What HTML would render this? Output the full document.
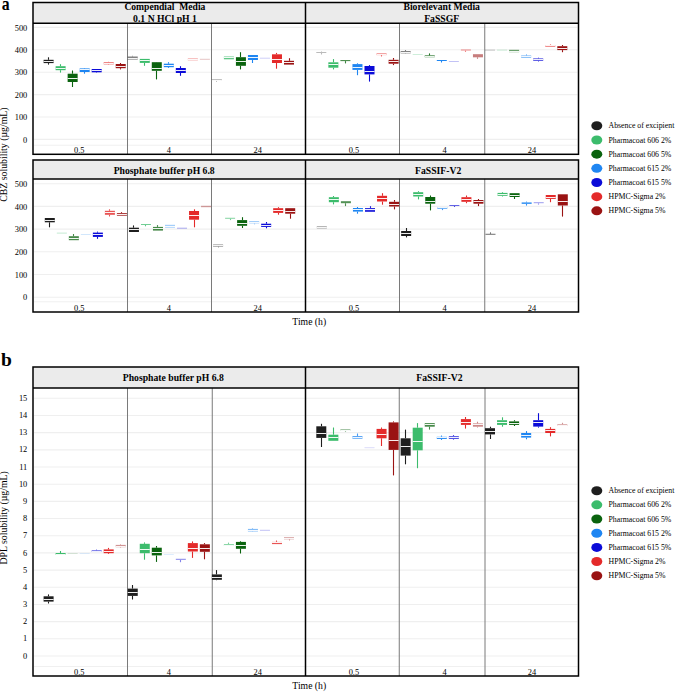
<!DOCTYPE html>
<html><head><meta charset="utf-8"><title>Solubility box plots</title>
<style>
html,body{margin:0;padding:0;background:#fff;}
body{width:676px;height:692px;overflow:hidden;font-family:"Liberation Serif",serif;}
svg{display:block;}
</style></head><body>
<svg width="676" height="692" viewBox="0 0 676 692">
<rect width="676" height="692" fill="#fff"/>
<text transform="translate(1.65,9.8) scale(0.83,1)" font-family='"Liberation Serif", serif' font-weight="bold" font-size="19">a</text>
<rect x="33" y="2.5" width="545.5" height="20.8" fill="#ebebeb"/>
<line x1="34" y1="139.40" x2="577.5" y2="139.40" stroke="#efefef" stroke-width="1.1"/>
<line x1="34" y1="117.00" x2="577.5" y2="117.00" stroke="#efefef" stroke-width="1.1"/>
<line x1="34" y1="94.60" x2="577.5" y2="94.60" stroke="#efefef" stroke-width="1.1"/>
<line x1="34" y1="72.20" x2="577.5" y2="72.20" stroke="#efefef" stroke-width="1.1"/>
<line x1="34" y1="49.80" x2="577.5" y2="49.80" stroke="#efefef" stroke-width="1.1"/>
<line x1="34" y1="27.40" x2="577.5" y2="27.40" stroke="#efefef" stroke-width="1.1"/>
<line x1="34" y1="145.2" x2="577.5" y2="145.2" stroke="#f0f0f0" stroke-width="1"/>
<line x1="127.5" y1="23.3" x2="127.5" y2="154.3" stroke="#7a7a7a" stroke-width="1"/>
<line x1="211.5" y1="23.3" x2="211.5" y2="154.3" stroke="#7a7a7a" stroke-width="1"/>
<line x1="399.5" y1="23.3" x2="399.5" y2="154.3" stroke="#7a7a7a" stroke-width="1"/>
<line x1="484.75" y1="23.3" x2="484.75" y2="154.3" stroke="#7a7a7a" stroke-width="1"/>
<g><line x1="48.50" y1="57.30" x2="48.50" y2="59.80" stroke="#1e1e1e" stroke-width="1.1"/><line x1="48.50" y1="63.10" x2="48.50" y2="64.60" stroke="#1e1e1e" stroke-width="1.1"/><rect x="43.60" y="59.80" width="10.0" height="3.30" fill="#1e1e1e"/><rect x="43.60" y="61" width="10.0" height="1" fill="#fff" fill-opacity="0.92"/></g>
<g><line x1="60.50" y1="64.20" x2="60.50" y2="66.20" stroke="#3cbc6c" stroke-width="1.1"/><line x1="60.50" y1="70.20" x2="60.50" y2="72.60" stroke="#3cbc6c" stroke-width="1.1"/><rect x="55.62" y="66.20" width="10.0" height="4.00" fill="#3cbc6c"/><rect x="55.62" y="68" width="10.0" height="1" fill="#fff" fill-opacity="0.92"/></g>
<g><line x1="72.50" y1="70.50" x2="72.50" y2="73.70" stroke="#0a630e" stroke-width="1.1"/><line x1="72.50" y1="82.00" x2="72.50" y2="87.00" stroke="#0a630e" stroke-width="1.1"/><rect x="67.64" y="73.70" width="10.0" height="8.30" fill="#0a630e"/><rect x="67.64" y="78" width="10.0" height="1" fill="#fff" fill-opacity="0.92"/></g>
<g><line x1="84.50" y1="68.00" x2="84.50" y2="68.40" stroke="#1f86f2" stroke-width="1.1"/><line x1="84.50" y1="72.00" x2="84.50" y2="73.70" stroke="#1f86f2" stroke-width="1.1"/><rect x="79.66" y="68.40" width="10.0" height="3.60" fill="#1f86f2"/><rect x="79.66" y="69" width="10.0" height="1" fill="#fff" fill-opacity="0.92"/></g>
<g><line x1="96.50" y1="72.30" x2="96.50" y2="72.70" stroke="#0b0bd8" stroke-width="1.1"/><rect x="91.68" y="69.00" width="10.0" height="3.30" fill="#0b0bd8"/><rect x="91.68" y="70" width="10.0" height="1" fill="#fff" fill-opacity="0.92"/></g>
<g opacity="0.7"><line x1="108.50" y1="61.80" x2="108.50" y2="62.20" stroke="#e42a2a" stroke-width="1.1"/><line x1="108.50" y1="64.40" x2="108.50" y2="64.80" stroke="#e42a2a" stroke-width="1.1"/><rect x="103.70" y="62.20" width="10.0" height="2.20" fill="#e42a2a"/><rect x="103.70" y="63" width="10.0" height="1" fill="#fff" fill-opacity="0.92"/></g>
<g><line x1="120.50" y1="63.00" x2="120.50" y2="64.00" stroke="#9a1313" stroke-width="1.1"/><line x1="120.50" y1="68.20" x2="120.50" y2="69.40" stroke="#9a1313" stroke-width="1.1"/><rect x="115.72" y="64.00" width="10.0" height="4.20" fill="#9a1313"/><rect x="115.72" y="66" width="10.0" height="1" fill="#fff" fill-opacity="0.92"/></g>
<g opacity="0.55"><line x1="132.50" y1="55.80" x2="132.50" y2="56.50" stroke="#1e1e1e" stroke-width="1.1"/><rect x="127.74" y="56.50" width="10.0" height="3.10" fill="#1e1e1e"/><rect x="127.74" y="58" width="10.0" height="1" fill="#fff" fill-opacity="0.92"/></g>
<g><line x1="144.50" y1="62.90" x2="144.50" y2="65.80" stroke="#3cbc6c" stroke-width="1.1"/><rect x="139.76" y="58.90" width="10.0" height="4.00" fill="#3cbc6c"/><rect x="139.76" y="60" width="10.0" height="1" fill="#fff" fill-opacity="0.92"/></g>
<g><line x1="156.50" y1="62.00" x2="156.50" y2="62.20" stroke="#0a630e" stroke-width="1.1"/><line x1="156.50" y1="70.80" x2="156.50" y2="79.40" stroke="#0a630e" stroke-width="1.1"/><rect x="151.78" y="62.20" width="10.0" height="8.60" fill="#0a630e"/><rect x="151.78" y="68" width="10.0" height="1" fill="#fff" fill-opacity="0.92"/></g>
<g><line x1="168.50" y1="62.20" x2="168.50" y2="63.70" stroke="#1f86f2" stroke-width="1.1"/><line x1="168.50" y1="67.20" x2="168.50" y2="68.00" stroke="#1f86f2" stroke-width="1.1"/><rect x="163.80" y="63.70" width="10.0" height="3.50" fill="#1f86f2"/><rect x="163.80" y="65" width="10.0" height="1" fill="#fff" fill-opacity="0.92"/></g>
<g><line x1="180.50" y1="66.20" x2="180.50" y2="68.00" stroke="#0b0bd8" stroke-width="1.1"/><line x1="180.50" y1="73.00" x2="180.50" y2="75.80" stroke="#0b0bd8" stroke-width="1.1"/><rect x="175.82" y="68.00" width="10.0" height="5.00" fill="#0b0bd8"/><rect x="175.82" y="70" width="10.0" height="1" fill="#fff" fill-opacity="0.92"/></g>
<g opacity="0.35"><rect x="187.84" y="58.20" width="10.0" height="2.30" fill="#e42a2a"/><rect x="187.84" y="59" width="10.0" height="1" fill="#fff" fill-opacity="0.92"/></g>
<g opacity="0.25"><rect x="199.86" y="58.80" width="10.0" height="1.00" fill="#9a1313"/></g>
<g opacity="0.45"><line x1="216.50" y1="80.60" x2="216.50" y2="81.60" stroke="#1e1e1e" stroke-width="1.1"/><rect x="211.88" y="79.40" width="10.0" height="1.20" fill="#1e1e1e"/><rect x="211.88" y="80" width="10.0" height="1" fill="#fff" fill-opacity="0.92"/></g>
<g opacity="0.8"><rect x="223.90" y="56.50" width="10.0" height="2.80" fill="#3cbc6c"/><rect x="223.90" y="57" width="10.0" height="1" fill="#fff" fill-opacity="0.92"/></g>
<g><line x1="240.50" y1="52.20" x2="240.50" y2="57.20" stroke="#0a630e" stroke-width="1.1"/><line x1="240.50" y1="65.80" x2="240.50" y2="69.40" stroke="#0a630e" stroke-width="1.1"/><rect x="235.92" y="57.20" width="10.0" height="8.60" fill="#0a630e"/><rect x="235.92" y="61" width="10.0" height="1" fill="#fff" fill-opacity="0.92"/></g>
<g><line x1="252.50" y1="60.00" x2="252.50" y2="63.00" stroke="#1f86f2" stroke-width="1.1"/><rect x="247.94" y="55.00" width="10.0" height="5.00" fill="#1f86f2"/><rect x="247.94" y="57" width="10.0" height="1" fill="#fff" fill-opacity="0.92"/></g>
<g opacity="0.2"><rect x="259.96" y="57.70" width="10.0" height="1.00" fill="#0b0bd8"/></g>
<g><line x1="276.50" y1="52.90" x2="276.50" y2="54.30" stroke="#e42a2a" stroke-width="1.1"/><line x1="276.50" y1="63.00" x2="276.50" y2="68.70" stroke="#e42a2a" stroke-width="1.1"/><rect x="271.98" y="54.30" width="10.0" height="8.70" fill="#e42a2a"/><rect x="271.98" y="59" width="10.0" height="1" fill="#fff" fill-opacity="0.92"/></g>
<g><line x1="289.50" y1="58.20" x2="289.50" y2="60.80" stroke="#9a1313" stroke-width="1.1"/><rect x="284.00" y="60.80" width="10.0" height="3.80" fill="#9a1313"/><rect x="284.00" y="62" width="10.0" height="1" fill="#fff" fill-opacity="0.92"/></g>
<g opacity="0.3"><line x1="321.50" y1="51.50" x2="321.50" y2="52.00" stroke="#1e1e1e" stroke-width="1.1"/><line x1="321.50" y1="53.00" x2="321.50" y2="54.50" stroke="#1e1e1e" stroke-width="1.1"/><rect x="316.30" y="52.00" width="10.0" height="1.00" fill="#1e1e1e"/></g>
<g><line x1="333.50" y1="59.10" x2="333.50" y2="62.30" stroke="#3cbc6c" stroke-width="1.1"/><line x1="333.50" y1="67.70" x2="333.50" y2="69.40" stroke="#3cbc6c" stroke-width="1.1"/><rect x="328.35" y="62.30" width="10.0" height="5.40" fill="#3cbc6c"/><rect x="328.35" y="64" width="10.0" height="1" fill="#fff" fill-opacity="0.92"/></g>
<g opacity="0.8"><line x1="345.50" y1="61.10" x2="345.50" y2="63.40" stroke="#0a630e" stroke-width="1.1"/><rect x="340.40" y="60.10" width="10.0" height="1.00" fill="#0a630e"/></g>
<g><line x1="357.50" y1="63.30" x2="357.50" y2="64.10" stroke="#1f86f2" stroke-width="1.1"/><line x1="357.50" y1="69.90" x2="357.50" y2="75.20" stroke="#1f86f2" stroke-width="1.1"/><rect x="352.45" y="64.10" width="10.0" height="5.80" fill="#1f86f2"/><rect x="352.45" y="67" width="10.0" height="1" fill="#fff" fill-opacity="0.92"/></g>
<g><line x1="369.50" y1="65.10" x2="369.50" y2="66.00" stroke="#0b0bd8" stroke-width="1.1"/><line x1="369.50" y1="74.40" x2="369.50" y2="81.60" stroke="#0b0bd8" stroke-width="1.1"/><rect x="364.50" y="66.00" width="10.0" height="8.40" fill="#0b0bd8"/><rect x="364.50" y="71" width="10.0" height="1" fill="#fff" fill-opacity="0.92"/></g>
<g opacity="0.7"><line x1="381.50" y1="55.10" x2="381.50" y2="56.50" stroke="#e42a2a" stroke-width="1.1"/><rect x="376.55" y="53.40" width="10.0" height="1.70" fill="#e42a2a"/><rect x="376.55" y="54" width="10.0" height="1" fill="#fff" fill-opacity="0.92"/></g>
<g><line x1="393.50" y1="58.00" x2="393.50" y2="59.80" stroke="#9a1313" stroke-width="1.1"/><line x1="393.50" y1="63.70" x2="393.50" y2="65.10" stroke="#9a1313" stroke-width="1.1"/><rect x="388.60" y="59.80" width="10.0" height="3.90" fill="#9a1313"/><rect x="388.60" y="61" width="10.0" height="1" fill="#fff" fill-opacity="0.92"/></g>
<g opacity="0.55"><line x1="405.50" y1="50.00" x2="405.50" y2="51.00" stroke="#1e1e1e" stroke-width="1.1"/><line x1="405.50" y1="53.40" x2="405.50" y2="53.70" stroke="#1e1e1e" stroke-width="1.1"/><rect x="400.65" y="51.00" width="10.0" height="2.40" fill="#1e1e1e"/><rect x="400.65" y="52" width="10.0" height="1" fill="#fff" fill-opacity="0.92"/></g>
<g opacity="0.25"><rect x="412.70" y="54.00" width="10.0" height="1.00" fill="#3cbc6c"/></g>
<g opacity="0.9"><line x1="429.50" y1="53.40" x2="429.50" y2="55.40" stroke="#0a630e" stroke-width="1.1"/><rect x="424.75" y="55.40" width="10.0" height="1.80" fill="#0a630e"/><rect x="424.75" y="56" width="10.0" height="1" fill="#fff" fill-opacity="0.92"/></g>
<g><line x1="441.50" y1="61.00" x2="441.50" y2="62.50" stroke="#1f86f2" stroke-width="1.1"/><rect x="436.80" y="60.00" width="10.0" height="1.00" fill="#1f86f2"/></g>
<g opacity="0.25"><rect x="448.85" y="61.00" width="10.0" height="1.00" fill="#0b0bd8"/></g>
<g opacity="0.55"><line x1="465.50" y1="50.50" x2="465.50" y2="52.00" stroke="#e42a2a" stroke-width="1.1"/><rect x="460.90" y="49.50" width="10.0" height="1.00" fill="#e42a2a"/></g>
<g opacity="0.55"><line x1="477.50" y1="57.30" x2="477.50" y2="58.80" stroke="#9a1313" stroke-width="1.1"/><rect x="472.95" y="54.20" width="10.0" height="3.10" fill="#9a1313"/></g>
<g opacity="0.25"><rect x="485.00" y="49.60" width="10.0" height="1.00" fill="#1e1e1e"/></g>
<g opacity="0.25"><rect x="497.05" y="49.60" width="10.0" height="1.00" fill="#3cbc6c"/></g>
<g opacity="0.6"><rect x="509.10" y="49.80" width="10.0" height="2.40" fill="#0a630e"/><rect x="509.10" y="51" width="10.0" height="1" fill="#fff" fill-opacity="0.92"/></g>
<g opacity="0.7"><line x1="526.50" y1="54.40" x2="526.50" y2="55.50" stroke="#1f86f2" stroke-width="1.1"/><rect x="521.15" y="55.50" width="10.0" height="2.20" fill="#1f86f2"/><rect x="521.15" y="56" width="10.0" height="1" fill="#fff" fill-opacity="0.92"/></g>
<g opacity="0.8"><line x1="538.50" y1="57.70" x2="538.50" y2="58.40" stroke="#0b0bd8" stroke-width="1.1"/><line x1="538.50" y1="60.80" x2="538.50" y2="61.50" stroke="#0b0bd8" stroke-width="1.1"/><rect x="533.20" y="58.40" width="10.0" height="2.40" fill="#0b0bd8"/><rect x="533.20" y="59" width="10.0" height="1" fill="#fff" fill-opacity="0.92"/></g>
<g opacity="0.65"><line x1="550.50" y1="44.30" x2="550.50" y2="45.00" stroke="#e42a2a" stroke-width="1.1"/><rect x="545.25" y="45.00" width="10.0" height="1.80" fill="#e42a2a"/><rect x="545.25" y="45" width="10.0" height="1" fill="#fff" fill-opacity="0.92"/></g>
<g><line x1="562.50" y1="45.00" x2="562.50" y2="46.20" stroke="#9a1313" stroke-width="1.1"/><line x1="562.50" y1="50.10" x2="562.50" y2="52.20" stroke="#9a1313" stroke-width="1.1"/><rect x="557.30" y="46.20" width="10.0" height="3.90" fill="#9a1313"/><rect x="557.30" y="48" width="10.0" height="1" fill="#fff" fill-opacity="0.92"/></g>
<rect x="33" y="2.5" width="545.5" height="151.8" fill="none" stroke="#000" stroke-width="1.5"/>
<line x1="33" y1="23.3" x2="578.5" y2="23.3" stroke="#000" stroke-width="1.5"/>
<line x1="305.5" y1="2.5" x2="305.5" y2="154.3" stroke="#000" stroke-width="1.5"/>
<text x="164.9" y="10.1" text-anchor="middle" font-family='"Liberation Serif", serif' font-weight="bold" font-size="9.7"><tspan font-size="9.6">Compendial&#160; Media</tspan></text>
<text x="165.0" y="21.9" text-anchor="middle" font-family='"Liberation Serif", serif' font-weight="bold" font-size="9.7">0.1 N HCl pH 1</text>
<text x="441.7" y="10.1" text-anchor="middle" font-family='"Liberation Serif", serif' font-weight="bold" font-size="9.7">Biorelevant Media</text>
<text x="441.7" y="21.9" text-anchor="middle" font-family='"Liberation Serif", serif' font-weight="bold" font-size="9.7">FaSSGF</text>
<text x="27.3" y="142.60" text-anchor="end" font-family='"Liberation Serif", serif' font-size="8.4">0</text>
<text x="27.3" y="120.20" text-anchor="end" font-family='"Liberation Serif", serif' font-size="8.4">100</text>
<text x="27.3" y="97.80" text-anchor="end" font-family='"Liberation Serif", serif' font-size="8.4">200</text>
<text x="27.3" y="75.40" text-anchor="end" font-family='"Liberation Serif", serif' font-size="8.4">300</text>
<text x="27.3" y="53.00" text-anchor="end" font-family='"Liberation Serif", serif' font-size="8.4">400</text>
<text x="27.3" y="30.60" text-anchor="end" font-family='"Liberation Serif", serif' font-size="8.4">500</text>
<text x="79.20" y="153.0" text-anchor="middle" font-family='"Liberation Serif", serif' font-size="8.4">0.5</text>
<text x="168.80" y="153.0" text-anchor="middle" font-family='"Liberation Serif", serif' font-size="8.4">4</text>
<text x="257.70" y="153.0" text-anchor="middle" font-family='"Liberation Serif", serif' font-size="8.4">24</text>
<text x="353.90" y="153.0" text-anchor="middle" font-family='"Liberation Serif", serif' font-size="8.4">0.5</text>
<text x="444.60" y="153.0" text-anchor="middle" font-family='"Liberation Serif", serif' font-size="8.4">4</text>
<text x="531.90" y="153.0" text-anchor="middle" font-family='"Liberation Serif", serif' font-size="8.4">24</text>
<rect x="33" y="160.0" width="545.5" height="18.900000000000006" fill="#ebebeb"/>
<line x1="34" y1="297.20" x2="577.5" y2="297.20" stroke="#efefef" stroke-width="1.1"/>
<line x1="34" y1="274.50" x2="577.5" y2="274.50" stroke="#efefef" stroke-width="1.1"/>
<line x1="34" y1="251.80" x2="577.5" y2="251.80" stroke="#efefef" stroke-width="1.1"/>
<line x1="34" y1="229.10" x2="577.5" y2="229.10" stroke="#efefef" stroke-width="1.1"/>
<line x1="34" y1="206.40" x2="577.5" y2="206.40" stroke="#efefef" stroke-width="1.1"/>
<line x1="34" y1="183.70" x2="577.5" y2="183.70" stroke="#efefef" stroke-width="1.1"/>
<line x1="34" y1="301.8" x2="577.5" y2="301.8" stroke="#f0f0f0" stroke-width="1"/>
<line x1="127.5" y1="178.9" x2="127.5" y2="312.0" stroke="#7a7a7a" stroke-width="1"/>
<line x1="211.5" y1="178.9" x2="211.5" y2="312.0" stroke="#7a7a7a" stroke-width="1"/>
<line x1="399.5" y1="178.9" x2="399.5" y2="312.0" stroke="#7a7a7a" stroke-width="1"/>
<line x1="484.75" y1="178.9" x2="484.75" y2="312.0" stroke="#7a7a7a" stroke-width="1"/>
<g><line x1="49.50" y1="222.30" x2="49.50" y2="227.30" stroke="#1e1e1e" stroke-width="1.1"/><rect x="44.80" y="218.00" width="10.0" height="4.30" fill="#1e1e1e"/><rect x="44.80" y="220" width="10.0" height="1" fill="#fff" fill-opacity="0.92"/></g>
<g opacity="0.3"><rect x="56.82" y="232.60" width="10.0" height="1.00" fill="#3cbc6c"/></g>
<g opacity="0.75"><line x1="73.50" y1="234.00" x2="73.50" y2="236.20" stroke="#0a630e" stroke-width="1.1"/><rect x="68.84" y="236.20" width="10.0" height="4.00" fill="#0a630e"/><rect x="68.84" y="238" width="10.0" height="1" fill="#fff" fill-opacity="0.92"/></g>
<g opacity="0.2"><rect x="80.86" y="234.00" width="10.0" height="1.00" fill="#1f86f2"/></g>
<g><line x1="97.50" y1="231.60" x2="97.50" y2="232.60" stroke="#0b0bd8" stroke-width="1.1"/><line x1="97.50" y1="236.90" x2="97.50" y2="238.80" stroke="#0b0bd8" stroke-width="1.1"/><rect x="92.88" y="232.60" width="10.0" height="4.30" fill="#0b0bd8"/><rect x="92.88" y="234" width="10.0" height="1" fill="#fff" fill-opacity="0.92"/></g>
<g opacity="0.8"><line x1="109.50" y1="209.30" x2="109.50" y2="210.80" stroke="#e42a2a" stroke-width="1.1"/><line x1="109.50" y1="214.80" x2="109.50" y2="216.50" stroke="#e42a2a" stroke-width="1.1"/><rect x="104.90" y="210.80" width="10.0" height="4.00" fill="#e42a2a"/><rect x="104.90" y="212" width="10.0" height="1" fill="#fff" fill-opacity="0.92"/></g>
<g opacity="0.8"><line x1="121.50" y1="212.00" x2="121.50" y2="213.00" stroke="#9a1313" stroke-width="1.1"/><rect x="116.92" y="213.00" width="10.0" height="2.80" fill="#9a1313"/><rect x="116.92" y="214" width="10.0" height="1" fill="#fff" fill-opacity="0.92"/></g>
<g><line x1="133.50" y1="225.40" x2="133.50" y2="227.70" stroke="#1e1e1e" stroke-width="1.1"/><rect x="128.94" y="227.70" width="10.0" height="4.30" fill="#1e1e1e"/><rect x="128.94" y="229" width="10.0" height="1" fill="#fff" fill-opacity="0.92"/></g>
<g opacity="0.8"><line x1="145.50" y1="224.80" x2="145.50" y2="226.30" stroke="#3cbc6c" stroke-width="1.1"/><rect x="140.96" y="224.00" width="10.0" height="0.90" fill="#3cbc6c"/></g>
<g opacity="0.75"><line x1="157.50" y1="225.10" x2="157.50" y2="226.90" stroke="#0a630e" stroke-width="1.1"/><rect x="152.98" y="226.90" width="10.0" height="3.70" fill="#0a630e"/><rect x="152.98" y="228" width="10.0" height="1" fill="#fff" fill-opacity="0.92"/></g>
<g opacity="0.4"><rect x="165.00" y="224.80" width="10.0" height="2.90" fill="#1f86f2"/><rect x="165.00" y="226" width="10.0" height="1" fill="#fff" fill-opacity="0.92"/></g>
<g opacity="0.35"><rect x="177.02" y="227.70" width="10.0" height="1.00" fill="#0b0bd8"/></g>
<g><line x1="194.50" y1="209.30" x2="194.50" y2="211.00" stroke="#e42a2a" stroke-width="1.1"/><line x1="194.50" y1="219.70" x2="194.50" y2="227.30" stroke="#e42a2a" stroke-width="1.1"/><rect x="189.04" y="211.00" width="10.0" height="8.70" fill="#e42a2a"/><rect x="189.04" y="215" width="10.0" height="1" fill="#fff" fill-opacity="0.92"/></g>
<g opacity="0.4"><rect x="201.06" y="205.80" width="10.0" height="1.40" fill="#9a1313"/></g>
<g opacity="0.55"><line x1="218.50" y1="246.60" x2="218.50" y2="247.40" stroke="#1e1e1e" stroke-width="1.1"/><rect x="213.08" y="244.50" width="10.0" height="2.10" fill="#1e1e1e"/><rect x="213.08" y="245" width="10.0" height="1" fill="#fff" fill-opacity="0.92"/></g>
<g opacity="0.7"><line x1="230.50" y1="218.60" x2="230.50" y2="220.10" stroke="#3cbc6c" stroke-width="1.1"/><rect x="225.10" y="217.80" width="10.0" height="0.90" fill="#3cbc6c"/></g>
<g><line x1="242.50" y1="217.20" x2="242.50" y2="220.10" stroke="#0a630e" stroke-width="1.1"/><line x1="242.50" y1="225.80" x2="242.50" y2="228.00" stroke="#0a630e" stroke-width="1.1"/><rect x="237.12" y="220.10" width="10.0" height="5.70" fill="#0a630e"/><rect x="237.12" y="223" width="10.0" height="1" fill="#fff" fill-opacity="0.92"/></g>
<g opacity="0.45"><line x1="254.50" y1="223.40" x2="254.50" y2="224.40" stroke="#1f86f2" stroke-width="1.1"/><rect x="249.14" y="221.10" width="10.0" height="2.30" fill="#1f86f2"/><rect x="249.14" y="222" width="10.0" height="1" fill="#fff" fill-opacity="0.92"/></g>
<g><line x1="266.50" y1="222.00" x2="266.50" y2="223.70" stroke="#0b0bd8" stroke-width="1.1"/><line x1="266.50" y1="226.90" x2="266.50" y2="228.30" stroke="#0b0bd8" stroke-width="1.1"/><rect x="261.16" y="223.70" width="10.0" height="3.20" fill="#0b0bd8"/><rect x="261.16" y="225" width="10.0" height="1" fill="#fff" fill-opacity="0.92"/></g>
<g><line x1="278.50" y1="207.20" x2="278.50" y2="208.20" stroke="#e42a2a" stroke-width="1.1"/><line x1="278.50" y1="212.90" x2="278.50" y2="214.70" stroke="#e42a2a" stroke-width="1.1"/><rect x="273.18" y="208.20" width="10.0" height="4.70" fill="#e42a2a"/><rect x="273.18" y="210" width="10.0" height="1" fill="#fff" fill-opacity="0.92"/></g>
<g><line x1="290.50" y1="213.70" x2="290.50" y2="218.70" stroke="#9a1313" stroke-width="1.1"/><rect x="285.20" y="208.20" width="10.0" height="5.50" fill="#9a1313"/><rect x="285.20" y="211" width="10.0" height="1" fill="#fff" fill-opacity="0.92"/></g>
<g opacity="0.4"><rect x="316.80" y="226.20" width="10.0" height="2.30" fill="#1e1e1e"/><rect x="316.80" y="227" width="10.0" height="1" fill="#fff" fill-opacity="0.92"/></g>
<g><line x1="333.50" y1="196.00" x2="333.50" y2="197.20" stroke="#3cbc6c" stroke-width="1.1"/><line x1="333.50" y1="202.20" x2="333.50" y2="204.40" stroke="#3cbc6c" stroke-width="1.1"/><rect x="328.85" y="197.20" width="10.0" height="5.00" fill="#3cbc6c"/><rect x="328.85" y="199" width="10.0" height="1" fill="#fff" fill-opacity="0.92"/></g>
<g opacity="0.7"><line x1="345.50" y1="203.20" x2="345.50" y2="206.10" stroke="#0a630e" stroke-width="1.1"/><rect x="340.90" y="201.20" width="10.0" height="2.00" fill="#0a630e"/></g>
<g><line x1="357.50" y1="207.00" x2="357.50" y2="208.00" stroke="#1f86f2" stroke-width="1.1"/><line x1="357.50" y1="211.60" x2="357.50" y2="213.70" stroke="#1f86f2" stroke-width="1.1"/><rect x="352.95" y="208.00" width="10.0" height="3.60" fill="#1f86f2"/><rect x="352.95" y="209" width="10.0" height="1" fill="#fff" fill-opacity="0.92"/></g>
<g opacity="0.85"><line x1="370.50" y1="206.10" x2="370.50" y2="208.00" stroke="#0b0bd8" stroke-width="1.1"/><rect x="365.00" y="208.00" width="10.0" height="3.90" fill="#0b0bd8"/><rect x="365.00" y="209" width="10.0" height="1" fill="#fff" fill-opacity="0.92"/></g>
<g><line x1="382.50" y1="193.20" x2="382.50" y2="195.80" stroke="#e42a2a" stroke-width="1.1"/><line x1="382.50" y1="201.50" x2="382.50" y2="204.70" stroke="#e42a2a" stroke-width="1.1"/><rect x="377.05" y="195.80" width="10.0" height="5.70" fill="#e42a2a"/><rect x="377.05" y="198" width="10.0" height="1" fill="#fff" fill-opacity="0.92"/></g>
<g><line x1="394.50" y1="200.00" x2="394.50" y2="201.80" stroke="#9a1313" stroke-width="1.1"/><line x1="394.50" y1="206.50" x2="394.50" y2="209.40" stroke="#9a1313" stroke-width="1.1"/><rect x="389.10" y="201.80" width="10.0" height="4.70" fill="#9a1313"/><rect x="389.10" y="204" width="10.0" height="1" fill="#fff" fill-opacity="0.92"/></g>
<g><line x1="406.50" y1="228.00" x2="406.50" y2="231.00" stroke="#1e1e1e" stroke-width="1.1"/><line x1="406.50" y1="236.00" x2="406.50" y2="237.40" stroke="#1e1e1e" stroke-width="1.1"/><rect x="401.15" y="231.00" width="10.0" height="5.00" fill="#1e1e1e"/><rect x="401.15" y="233" width="10.0" height="1" fill="#fff" fill-opacity="0.92"/></g>
<g><line x1="418.50" y1="191.20" x2="418.50" y2="192.20" stroke="#3cbc6c" stroke-width="1.1"/><line x1="418.50" y1="196.50" x2="418.50" y2="199.40" stroke="#3cbc6c" stroke-width="1.1"/><rect x="413.20" y="192.20" width="10.0" height="4.30" fill="#3cbc6c"/><rect x="413.20" y="194" width="10.0" height="1" fill="#fff" fill-opacity="0.92"/></g>
<g><line x1="430.50" y1="195.50" x2="430.50" y2="197.00" stroke="#0a630e" stroke-width="1.1"/><line x1="430.50" y1="203.70" x2="430.50" y2="210.40" stroke="#0a630e" stroke-width="1.1"/><rect x="425.25" y="197.00" width="10.0" height="6.70" fill="#0a630e"/><rect x="425.25" y="201" width="10.0" height="1" fill="#fff" fill-opacity="0.92"/></g>
<g opacity="0.85"><line x1="442.50" y1="208.70" x2="442.50" y2="210.10" stroke="#1f86f2" stroke-width="1.1"/><rect x="437.30" y="207.00" width="10.0" height="1.70" fill="#1f86f2"/><rect x="437.30" y="207" width="10.0" height="1" fill="#fff" fill-opacity="0.92"/></g>
<g opacity="0.7"><line x1="454.50" y1="205.90" x2="454.50" y2="207.00" stroke="#0b0bd8" stroke-width="1.1"/><rect x="449.35" y="205.00" width="10.0" height="0.90" fill="#0b0bd8"/></g>
<g><line x1="466.50" y1="195.50" x2="466.50" y2="197.20" stroke="#e42a2a" stroke-width="1.1"/><line x1="466.50" y1="201.80" x2="466.50" y2="203.20" stroke="#e42a2a" stroke-width="1.1"/><rect x="461.40" y="197.20" width="10.0" height="4.60" fill="#e42a2a"/><rect x="461.40" y="199" width="10.0" height="1" fill="#fff" fill-opacity="0.92"/></g>
<g><line x1="478.50" y1="199.00" x2="478.50" y2="200.00" stroke="#9a1313" stroke-width="1.1"/><line x1="478.50" y1="203.70" x2="478.50" y2="206.10" stroke="#9a1313" stroke-width="1.1"/><rect x="473.45" y="200.00" width="10.0" height="3.70" fill="#9a1313"/><rect x="473.45" y="201" width="10.0" height="1" fill="#fff" fill-opacity="0.92"/></g>
<g opacity="0.7"><line x1="490.50" y1="232.40" x2="490.50" y2="233.80" stroke="#1e1e1e" stroke-width="1.1"/><rect x="485.50" y="233.80" width="10.0" height="0.90" fill="#1e1e1e"/></g>
<g><line x1="502.50" y1="192.20" x2="502.50" y2="192.90" stroke="#3cbc6c" stroke-width="1.1"/><line x1="502.50" y1="195.80" x2="502.50" y2="196.50" stroke="#3cbc6c" stroke-width="1.1"/><rect x="497.55" y="192.90" width="10.0" height="2.90" fill="#3cbc6c"/><rect x="497.55" y="194" width="10.0" height="1" fill="#fff" fill-opacity="0.92"/></g>
<g><line x1="514.50" y1="197.00" x2="514.50" y2="199.00" stroke="#0a630e" stroke-width="1.1"/><rect x="509.60" y="193.20" width="10.0" height="3.80" fill="#0a630e"/><rect x="509.60" y="195" width="10.0" height="1" fill="#fff" fill-opacity="0.92"/></g>
<g opacity="0.9"><line x1="526.50" y1="201.60" x2="526.50" y2="202.40" stroke="#1f86f2" stroke-width="1.1"/><line x1="526.50" y1="203.90" x2="526.50" y2="205.60" stroke="#1f86f2" stroke-width="1.1"/><rect x="521.65" y="202.40" width="10.0" height="1.50" fill="#1f86f2"/></g>
<g opacity="0.4"><line x1="538.50" y1="203.20" x2="538.50" y2="204.70" stroke="#0b0bd8" stroke-width="1.1"/><rect x="533.70" y="202.20" width="10.0" height="1.00" fill="#0b0bd8"/></g>
<g><line x1="550.50" y1="198.90" x2="550.50" y2="202.20" stroke="#e42a2a" stroke-width="1.1"/><rect x="545.75" y="195.00" width="10.0" height="3.90" fill="#e42a2a"/><rect x="545.75" y="197" width="10.0" height="1" fill="#fff" fill-opacity="0.92"/></g>
<g><line x1="562.50" y1="205.50" x2="562.50" y2="216.60" stroke="#9a1313" stroke-width="1.1"/><rect x="557.80" y="194.30" width="10.0" height="11.20" fill="#9a1313"/><rect x="557.80" y="201" width="10.0" height="1" fill="#fff" fill-opacity="0.92"/></g>
<rect x="33" y="160.0" width="545.5" height="152.0" fill="none" stroke="#000" stroke-width="1.5"/>
<line x1="33" y1="178.9" x2="578.5" y2="178.9" stroke="#000" stroke-width="1.5"/>
<line x1="305.5" y1="160.0" x2="305.5" y2="312.0" stroke="#000" stroke-width="1.5"/>
<text x="164.2" y="173.8" text-anchor="middle" font-family='"Liberation Serif", serif' font-weight="bold" font-size="9.7">Phosphate buffer pH 6.8</text>
<text x="438.2" y="173.8" text-anchor="middle" font-family='"Liberation Serif", serif' font-weight="bold" font-size="9.7">FaSSIF-V2</text>
<text x="27.3" y="300.40" text-anchor="end" font-family='"Liberation Serif", serif' font-size="8.4">0</text>
<text x="27.3" y="277.70" text-anchor="end" font-family='"Liberation Serif", serif' font-size="8.4">100</text>
<text x="27.3" y="255.00" text-anchor="end" font-family='"Liberation Serif", serif' font-size="8.4">200</text>
<text x="27.3" y="232.30" text-anchor="end" font-family='"Liberation Serif", serif' font-size="8.4">300</text>
<text x="27.3" y="209.60" text-anchor="end" font-family='"Liberation Serif", serif' font-size="8.4">400</text>
<text x="27.3" y="186.90" text-anchor="end" font-family='"Liberation Serif", serif' font-size="8.4">500</text>
<text x="79.20" y="310.6" text-anchor="middle" font-family='"Liberation Serif", serif' font-size="8.4">0.5</text>
<text x="168.80" y="310.6" text-anchor="middle" font-family='"Liberation Serif", serif' font-size="8.4">4</text>
<text x="257.70" y="310.6" text-anchor="middle" font-family='"Liberation Serif", serif' font-size="8.4">24</text>
<text x="353.90" y="310.6" text-anchor="middle" font-family='"Liberation Serif", serif' font-size="8.4">0.5</text>
<text x="444.60" y="310.6" text-anchor="middle" font-family='"Liberation Serif", serif' font-size="8.4">4</text>
<text x="531.90" y="310.6" text-anchor="middle" font-family='"Liberation Serif", serif' font-size="8.4">24</text>
<text x="309.25" y="324.7" text-anchor="middle" font-family='"Liberation Serif", serif' font-size="9.7">Time (h)</text>
<text transform="translate(7.4,154.6) rotate(-90)" text-anchor="middle" font-family='"Liberation Serif", serif' font-size="9.8">CBZ solubility (&#181;g/mL)</text>
<ellipse cx="596.8" cy="125.80" rx="5.5" ry="4.5" fill="#1e1e1e"/>
<text x="608.5" y="128.40" font-family='"Liberation Serif", serif' font-size="7.8">Absence of excipient</text>
<ellipse cx="596.8" cy="139.97" rx="5.5" ry="4.5" fill="#3cbc6c"/>
<text x="608.5" y="142.57" font-family='"Liberation Serif", serif' font-size="7.8">Pharmacoat 606 2%</text>
<ellipse cx="596.8" cy="154.14" rx="5.5" ry="4.5" fill="#0a630e"/>
<text x="608.5" y="156.74" font-family='"Liberation Serif", serif' font-size="7.8">Pharmacoat 606 5%</text>
<ellipse cx="596.8" cy="168.31" rx="5.5" ry="4.5" fill="#1f86f2"/>
<text x="608.5" y="170.91" font-family='"Liberation Serif", serif' font-size="7.8">Pharmacoat 615 2%</text>
<ellipse cx="596.8" cy="182.48" rx="5.5" ry="4.5" fill="#0b0bd8"/>
<text x="608.5" y="185.08" font-family='"Liberation Serif", serif' font-size="7.8">Pharmacoat 615 5%</text>
<ellipse cx="596.8" cy="196.65" rx="5.5" ry="4.5" fill="#e42a2a"/>
<text x="608.5" y="199.25" font-family='"Liberation Serif", serif' font-size="7.8">HPMC-Sigma 2%</text>
<ellipse cx="596.8" cy="210.82" rx="5.5" ry="4.5" fill="#9a1313"/>
<text x="608.5" y="213.42" font-family='"Liberation Serif", serif' font-size="7.8">HPMC-Sigma 5%</text>
<text x="1.0" y="365.8" font-family='"Liberation Serif", serif' font-weight="bold" font-size="19.5">b</text>
<rect x="33" y="367.0" width="545.5" height="21.0" fill="#ebebeb"/>
<line x1="34" y1="656.00" x2="577.5" y2="656.00" stroke="#efefef" stroke-width="1.1"/>
<line x1="34" y1="638.82" x2="577.5" y2="638.82" stroke="#efefef" stroke-width="1.1"/>
<line x1="34" y1="621.64" x2="577.5" y2="621.64" stroke="#efefef" stroke-width="1.1"/>
<line x1="34" y1="604.46" x2="577.5" y2="604.46" stroke="#efefef" stroke-width="1.1"/>
<line x1="34" y1="587.28" x2="577.5" y2="587.28" stroke="#efefef" stroke-width="1.1"/>
<line x1="34" y1="570.10" x2="577.5" y2="570.10" stroke="#efefef" stroke-width="1.1"/>
<line x1="34" y1="552.92" x2="577.5" y2="552.92" stroke="#efefef" stroke-width="1.1"/>
<line x1="34" y1="535.74" x2="577.5" y2="535.74" stroke="#efefef" stroke-width="1.1"/>
<line x1="34" y1="518.56" x2="577.5" y2="518.56" stroke="#efefef" stroke-width="1.1"/>
<line x1="34" y1="501.38" x2="577.5" y2="501.38" stroke="#efefef" stroke-width="1.1"/>
<line x1="34" y1="484.20" x2="577.5" y2="484.20" stroke="#efefef" stroke-width="1.1"/>
<line x1="34" y1="467.02" x2="577.5" y2="467.02" stroke="#efefef" stroke-width="1.1"/>
<line x1="34" y1="449.84" x2="577.5" y2="449.84" stroke="#efefef" stroke-width="1.1"/>
<line x1="34" y1="432.66" x2="577.5" y2="432.66" stroke="#efefef" stroke-width="1.1"/>
<line x1="34" y1="415.48" x2="577.5" y2="415.48" stroke="#efefef" stroke-width="1.1"/>
<line x1="34" y1="398.30" x2="577.5" y2="398.30" stroke="#efefef" stroke-width="1.1"/>
<line x1="34" y1="666.5" x2="577.5" y2="666.5" stroke="#f0f0f0" stroke-width="1"/>
<line x1="127.5" y1="388.0" x2="127.5" y2="676.0" stroke="#7a7a7a" stroke-width="1"/>
<line x1="212.25" y1="388.0" x2="212.25" y2="676.0" stroke="#7a7a7a" stroke-width="1"/>
<line x1="399.25" y1="388.0" x2="399.25" y2="676.0" stroke="#7a7a7a" stroke-width="1"/>
<line x1="485.0" y1="388.0" x2="485.0" y2="676.0" stroke="#7a7a7a" stroke-width="1"/>
<g><line x1="48.50" y1="594.40" x2="48.50" y2="596.30" stroke="#1e1e1e" stroke-width="1.1"/><line x1="48.50" y1="601.60" x2="48.50" y2="603.50" stroke="#1e1e1e" stroke-width="1.1"/><rect x="43.60" y="596.30" width="10.0" height="5.30" fill="#1e1e1e"/><rect x="43.60" y="599" width="10.0" height="1" fill="#fff" fill-opacity="0.92"/></g>
<g><line x1="60.50" y1="551.00" x2="60.50" y2="553.00" stroke="#3cbc6c" stroke-width="1.1"/><rect x="55.62" y="553.00" width="10.0" height="2.00" fill="#3cbc6c"/><rect x="55.62" y="554" width="10.0" height="1" fill="#fff" fill-opacity="0.92"/></g>
<g opacity="0.15"><rect x="67.64" y="553.00" width="10.0" height="1.00" fill="#0a630e"/></g>
<g opacity="0.15"><rect x="79.66" y="553.00" width="10.0" height="1.00" fill="#1f86f2"/></g>
<g opacity="0.7"><line x1="96.50" y1="549.60" x2="96.50" y2="550.30" stroke="#0b0bd8" stroke-width="1.1"/><rect x="91.68" y="550.30" width="10.0" height="1.70" fill="#0b0bd8"/><rect x="91.68" y="551" width="10.0" height="1" fill="#fff" fill-opacity="0.92"/></g>
<g><line x1="108.50" y1="547.90" x2="108.50" y2="549.40" stroke="#e42a2a" stroke-width="1.1"/><line x1="108.50" y1="553.20" x2="108.50" y2="554.00" stroke="#e42a2a" stroke-width="1.1"/><rect x="103.70" y="549.40" width="10.0" height="3.80" fill="#e42a2a"/><rect x="103.70" y="551" width="10.0" height="1" fill="#fff" fill-opacity="0.92"/></g>
<g opacity="0.45"><line x1="120.50" y1="544.30" x2="120.50" y2="544.90" stroke="#9a1313" stroke-width="1.1"/><line x1="120.50" y1="547.20" x2="120.50" y2="547.70" stroke="#9a1313" stroke-width="1.1"/><rect x="115.72" y="544.90" width="10.0" height="2.30" fill="#9a1313"/><rect x="115.72" y="546" width="10.0" height="1" fill="#fff" fill-opacity="0.92"/></g>
<g><line x1="132.50" y1="585.00" x2="132.50" y2="588.60" stroke="#1e1e1e" stroke-width="1.1"/><line x1="132.50" y1="595.90" x2="132.50" y2="599.50" stroke="#1e1e1e" stroke-width="1.1"/><rect x="127.74" y="588.60" width="10.0" height="7.30" fill="#1e1e1e"/><rect x="127.74" y="592" width="10.0" height="1" fill="#fff" fill-opacity="0.92"/></g>
<g><line x1="144.50" y1="542.40" x2="144.50" y2="543.80" stroke="#3cbc6c" stroke-width="1.1"/><line x1="144.50" y1="553.20" x2="144.50" y2="559.70" stroke="#3cbc6c" stroke-width="1.1"/><rect x="139.76" y="543.80" width="10.0" height="9.40" fill="#3cbc6c"/><rect x="139.76" y="549" width="10.0" height="1" fill="#fff" fill-opacity="0.92"/></g>
<g><line x1="156.50" y1="546.00" x2="156.50" y2="547.70" stroke="#0a630e" stroke-width="1.1"/><line x1="156.50" y1="555.40" x2="156.50" y2="561.90" stroke="#0a630e" stroke-width="1.1"/><rect x="151.78" y="547.70" width="10.0" height="7.70" fill="#0a630e"/><rect x="151.78" y="552" width="10.0" height="1" fill="#fff" fill-opacity="0.92"/></g>
<g opacity="0.15"><rect x="163.80" y="554.00" width="10.0" height="1.00" fill="#1f86f2"/></g>
<g opacity="0.5"><line x1="180.50" y1="559.80" x2="180.50" y2="562.20" stroke="#0b0bd8" stroke-width="1.1"/><rect x="175.82" y="558.80" width="10.0" height="1.00" fill="#0b0bd8"/></g>
<g><line x1="192.50" y1="541.40" x2="192.50" y2="543.10" stroke="#e42a2a" stroke-width="1.1"/><line x1="192.50" y1="551.50" x2="192.50" y2="557.90" stroke="#e42a2a" stroke-width="1.1"/><rect x="187.84" y="543.10" width="10.0" height="8.40" fill="#e42a2a"/><rect x="187.84" y="548" width="10.0" height="1" fill="#fff" fill-opacity="0.92"/></g>
<g><line x1="204.50" y1="543.10" x2="204.50" y2="544.30" stroke="#9a1313" stroke-width="1.1"/><line x1="204.50" y1="551.80" x2="204.50" y2="559.30" stroke="#9a1313" stroke-width="1.1"/><rect x="199.86" y="544.30" width="10.0" height="7.50" fill="#9a1313"/><rect x="199.86" y="548" width="10.0" height="1" fill="#fff" fill-opacity="0.92"/></g>
<g><line x1="216.50" y1="570.10" x2="216.50" y2="574.40" stroke="#1e1e1e" stroke-width="1.1"/><line x1="216.50" y1="579.80" x2="216.50" y2="580.20" stroke="#1e1e1e" stroke-width="1.1"/><rect x="211.88" y="574.40" width="10.0" height="5.40" fill="#1e1e1e"/><rect x="211.88" y="577" width="10.0" height="1" fill="#fff" fill-opacity="0.92"/></g>
<g opacity="0.65"><line x1="228.50" y1="542.60" x2="228.50" y2="544.10" stroke="#3cbc6c" stroke-width="1.1"/><rect x="223.90" y="544.10" width="10.0" height="1.90" fill="#3cbc6c"/><rect x="223.90" y="545" width="10.0" height="1" fill="#fff" fill-opacity="0.92"/></g>
<g><line x1="240.50" y1="541.20" x2="240.50" y2="541.90" stroke="#0a630e" stroke-width="1.1"/><line x1="240.50" y1="548.80" x2="240.50" y2="553.50" stroke="#0a630e" stroke-width="1.1"/><rect x="235.92" y="541.90" width="10.0" height="6.90" fill="#0a630e"/><rect x="235.92" y="545" width="10.0" height="1" fill="#fff" fill-opacity="0.92"/></g>
<g opacity="0.55"><line x1="252.50" y1="528.20" x2="252.50" y2="528.90" stroke="#1f86f2" stroke-width="1.1"/><line x1="252.50" y1="531.50" x2="252.50" y2="531.80" stroke="#1f86f2" stroke-width="1.1"/><rect x="247.94" y="528.90" width="10.0" height="2.60" fill="#1f86f2"/><rect x="247.94" y="530" width="10.0" height="1" fill="#fff" fill-opacity="0.92"/></g>
<g opacity="0.25"><rect x="259.96" y="529.80" width="10.0" height="1.00" fill="#0b0bd8"/></g>
<g opacity="0.8"><line x1="276.50" y1="540.50" x2="276.50" y2="541.90" stroke="#e42a2a" stroke-width="1.1"/><rect x="271.98" y="541.90" width="10.0" height="2.20" fill="#e42a2a"/><rect x="271.98" y="542" width="10.0" height="1" fill="#fff" fill-opacity="0.92"/></g>
<g opacity="0.45"><line x1="289.50" y1="539.30" x2="289.50" y2="540.50" stroke="#9a1313" stroke-width="1.1"/><rect x="284.00" y="537.30" width="10.0" height="2.00" fill="#9a1313"/><rect x="284.00" y="538" width="10.0" height="1" fill="#fff" fill-opacity="0.92"/></g>
<g><line x1="321.50" y1="423.80" x2="321.50" y2="426.30" stroke="#1e1e1e" stroke-width="1.1"/><line x1="321.50" y1="437.90" x2="321.50" y2="447.00" stroke="#1e1e1e" stroke-width="1.1"/><rect x="316.30" y="426.30" width="10.0" height="11.60" fill="#1e1e1e"/><rect x="316.30" y="433" width="10.0" height="1" fill="#fff" fill-opacity="0.92"/></g>
<g><line x1="333.50" y1="427.50" x2="333.50" y2="434.70" stroke="#3cbc6c" stroke-width="1.1"/><rect x="328.35" y="434.70" width="10.0" height="6.10" fill="#3cbc6c"/><rect x="328.35" y="437" width="10.0" height="1" fill="#fff" fill-opacity="0.92"/></g>
<g opacity="0.45"><line x1="345.50" y1="430.80" x2="345.50" y2="431.80" stroke="#0a630e" stroke-width="1.1"/><rect x="340.40" y="429.20" width="10.0" height="1.60" fill="#0a630e"/><rect x="340.40" y="430" width="10.0" height="1" fill="#fff" fill-opacity="0.92"/></g>
<g opacity="0.8"><line x1="357.50" y1="433.50" x2="357.50" y2="436.10" stroke="#1f86f2" stroke-width="1.1"/><rect x="352.45" y="436.10" width="10.0" height="2.60" fill="#1f86f2"/><rect x="352.45" y="437" width="10.0" height="1" fill="#fff" fill-opacity="0.92"/></g>
<g opacity="0.15"><rect x="364.50" y="447.20" width="10.0" height="1.00" fill="#0b0bd8"/></g>
<g><line x1="381.50" y1="427.50" x2="381.50" y2="428.90" stroke="#e42a2a" stroke-width="1.1"/><line x1="381.50" y1="438.30" x2="381.50" y2="446.00" stroke="#e42a2a" stroke-width="1.1"/><rect x="376.55" y="428.90" width="10.0" height="9.40" fill="#e42a2a"/><rect x="376.55" y="434" width="10.0" height="1" fill="#fff" fill-opacity="0.92"/></g>
<g><line x1="393.50" y1="421.40" x2="393.50" y2="422.40" stroke="#9a1313" stroke-width="1.1"/><line x1="393.50" y1="449.90" x2="393.50" y2="475.40" stroke="#9a1313" stroke-width="1.1"/><rect x="388.60" y="422.40" width="10.0" height="27.50" fill="#9a1313"/><rect x="388.60" y="440" width="10.0" height="1" fill="#fff" fill-opacity="0.92"/></g>
<g><line x1="405.50" y1="429.60" x2="405.50" y2="438.30" stroke="#1e1e1e" stroke-width="1.1"/><line x1="405.50" y1="455.60" x2="405.50" y2="464.30" stroke="#1e1e1e" stroke-width="1.1"/><rect x="400.65" y="438.30" width="10.0" height="17.30" fill="#1e1e1e"/><rect x="400.65" y="446" width="10.0" height="1" fill="#fff" fill-opacity="0.92"/></g>
<g><line x1="417.50" y1="423.10" x2="417.50" y2="427.70" stroke="#3cbc6c" stroke-width="1.1"/><line x1="417.50" y1="450.30" x2="417.50" y2="468.20" stroke="#3cbc6c" stroke-width="1.1"/><rect x="412.70" y="427.70" width="10.0" height="22.60" fill="#3cbc6c"/><rect x="412.70" y="441" width="10.0" height="1" fill="#fff" fill-opacity="0.92"/></g>
<g opacity="0.75"><line x1="429.50" y1="426.70" x2="429.50" y2="429.60" stroke="#0a630e" stroke-width="1.1"/><rect x="424.75" y="423.10" width="10.0" height="3.60" fill="#0a630e"/><rect x="424.75" y="424" width="10.0" height="1" fill="#fff" fill-opacity="0.92"/></g>
<g opacity="0.9"><line x1="441.50" y1="435.50" x2="441.50" y2="436.80" stroke="#1f86f2" stroke-width="1.1"/><line x1="441.50" y1="439.00" x2="441.50" y2="440.00" stroke="#1f86f2" stroke-width="1.1"/><rect x="436.80" y="436.80" width="10.0" height="2.20" fill="#1f86f2"/><rect x="436.80" y="437" width="10.0" height="1" fill="#fff" fill-opacity="0.92"/></g>
<g opacity="0.7"><line x1="453.50" y1="435.00" x2="453.50" y2="436.10" stroke="#0b0bd8" stroke-width="1.1"/><line x1="453.50" y1="439.00" x2="453.50" y2="439.70" stroke="#0b0bd8" stroke-width="1.1"/><rect x="448.85" y="436.10" width="10.0" height="2.90" fill="#0b0bd8"/><rect x="448.85" y="437" width="10.0" height="1" fill="#fff" fill-opacity="0.92"/></g>
<g><line x1="465.50" y1="417.00" x2="465.50" y2="419.10" stroke="#e42a2a" stroke-width="1.1"/><line x1="465.50" y1="424.90" x2="465.50" y2="428.60" stroke="#e42a2a" stroke-width="1.1"/><rect x="460.90" y="419.10" width="10.0" height="5.80" fill="#e42a2a"/><rect x="460.90" y="422" width="10.0" height="1" fill="#fff" fill-opacity="0.92"/></g>
<g opacity="0.5"><line x1="477.50" y1="421.70" x2="477.50" y2="423.40" stroke="#9a1313" stroke-width="1.1"/><line x1="477.50" y1="426.70" x2="477.50" y2="427.50" stroke="#9a1313" stroke-width="1.1"/><rect x="472.95" y="423.40" width="10.0" height="3.30" fill="#9a1313"/><rect x="472.95" y="424" width="10.0" height="1" fill="#fff" fill-opacity="0.92"/></g>
<g><line x1="490.50" y1="426.70" x2="490.50" y2="428.20" stroke="#1e1e1e" stroke-width="1.1"/><line x1="490.50" y1="434.40" x2="490.50" y2="439.00" stroke="#1e1e1e" stroke-width="1.1"/><rect x="485.00" y="428.20" width="10.0" height="6.20" fill="#1e1e1e"/><rect x="485.00" y="431" width="10.0" height="1" fill="#fff" fill-opacity="0.92"/></g>
<g><line x1="502.50" y1="417.30" x2="502.50" y2="420.20" stroke="#3cbc6c" stroke-width="1.1"/><line x1="502.50" y1="424.90" x2="502.50" y2="426.70" stroke="#3cbc6c" stroke-width="1.1"/><rect x="497.05" y="420.20" width="10.0" height="4.70" fill="#3cbc6c"/><rect x="497.05" y="422" width="10.0" height="1" fill="#fff" fill-opacity="0.92"/></g>
<g><line x1="514.50" y1="420.20" x2="514.50" y2="421.40" stroke="#0a630e" stroke-width="1.1"/><line x1="514.50" y1="424.90" x2="514.50" y2="426.00" stroke="#0a630e" stroke-width="1.1"/><rect x="509.10" y="421.40" width="10.0" height="3.50" fill="#0a630e"/><rect x="509.10" y="423" width="10.0" height="1" fill="#fff" fill-opacity="0.92"/></g>
<g><line x1="526.50" y1="431.10" x2="526.50" y2="433.00" stroke="#1f86f2" stroke-width="1.1"/><line x1="526.50" y1="437.60" x2="526.50" y2="439.30" stroke="#1f86f2" stroke-width="1.1"/><rect x="521.15" y="433.00" width="10.0" height="4.60" fill="#1f86f2"/><rect x="521.15" y="435" width="10.0" height="1" fill="#fff" fill-opacity="0.92"/></g>
<g><line x1="538.50" y1="413.20" x2="538.50" y2="420.20" stroke="#0b0bd8" stroke-width="1.1"/><line x1="538.50" y1="426.60" x2="538.50" y2="427.60" stroke="#0b0bd8" stroke-width="1.1"/><rect x="533.20" y="420.20" width="10.0" height="6.40" fill="#0b0bd8"/><rect x="533.20" y="422" width="10.0" height="1" fill="#fff" fill-opacity="0.92"/></g>
<g><line x1="550.50" y1="427.20" x2="550.50" y2="428.90" stroke="#e42a2a" stroke-width="1.1"/><line x1="550.50" y1="433.00" x2="550.50" y2="436.40" stroke="#e42a2a" stroke-width="1.1"/><rect x="545.25" y="428.90" width="10.0" height="4.10" fill="#e42a2a"/><rect x="545.25" y="430" width="10.0" height="1" fill="#fff" fill-opacity="0.92"/></g>
<g opacity="0.45"><line x1="562.50" y1="422.80" x2="562.50" y2="424.30" stroke="#9a1313" stroke-width="1.1"/><rect x="557.30" y="424.30" width="10.0" height="1.70" fill="#9a1313"/><rect x="557.30" y="425" width="10.0" height="1" fill="#fff" fill-opacity="0.92"/></g>
<rect x="33" y="367.0" width="545.5" height="309.0" fill="none" stroke="#000" stroke-width="1.5"/>
<line x1="33" y1="388.0" x2="578.5" y2="388.0" stroke="#000" stroke-width="1.5"/>
<line x1="305.5" y1="367.0" x2="305.5" y2="676.0" stroke="#000" stroke-width="1.5"/>
<text x="173.3" y="381.1" text-anchor="middle" font-family='"Liberation Serif", serif' font-weight="bold" font-size="9.7">Phosphate buffer pH 6.8</text>
<text x="439.4" y="381.2" text-anchor="middle" font-family='"Liberation Serif", serif' font-weight="bold" font-size="9.7">FaSSIF-V2</text>
<text x="27.3" y="658.60" text-anchor="end" font-family='"Liberation Serif", serif' font-size="8.4">0</text>
<text x="27.3" y="641.42" text-anchor="end" font-family='"Liberation Serif", serif' font-size="8.4">1</text>
<text x="27.3" y="624.24" text-anchor="end" font-family='"Liberation Serif", serif' font-size="8.4">2</text>
<text x="27.3" y="607.06" text-anchor="end" font-family='"Liberation Serif", serif' font-size="8.4">3</text>
<text x="27.3" y="589.88" text-anchor="end" font-family='"Liberation Serif", serif' font-size="8.4">4</text>
<text x="27.3" y="572.70" text-anchor="end" font-family='"Liberation Serif", serif' font-size="8.4">5</text>
<text x="27.3" y="555.52" text-anchor="end" font-family='"Liberation Serif", serif' font-size="8.4">6</text>
<text x="27.3" y="538.34" text-anchor="end" font-family='"Liberation Serif", serif' font-size="8.4">7</text>
<text x="27.3" y="521.16" text-anchor="end" font-family='"Liberation Serif", serif' font-size="8.4">8</text>
<text x="27.3" y="503.98" text-anchor="end" font-family='"Liberation Serif", serif' font-size="8.4">9</text>
<text x="27.3" y="486.80" text-anchor="end" font-family='"Liberation Serif", serif' font-size="8.4">10</text>
<text x="27.3" y="469.62" text-anchor="end" font-family='"Liberation Serif", serif' font-size="8.4">11</text>
<text x="27.3" y="452.44" text-anchor="end" font-family='"Liberation Serif", serif' font-size="8.4">12</text>
<text x="27.3" y="435.26" text-anchor="end" font-family='"Liberation Serif", serif' font-size="8.4">13</text>
<text x="27.3" y="418.08" text-anchor="end" font-family='"Liberation Serif", serif' font-size="8.4">14</text>
<text x="27.3" y="400.90" text-anchor="end" font-family='"Liberation Serif", serif' font-size="8.4">15</text>
<text x="79.20" y="674.6" text-anchor="middle" font-family='"Liberation Serif", serif' font-size="8.4">0.5</text>
<text x="168.80" y="674.6" text-anchor="middle" font-family='"Liberation Serif", serif' font-size="8.4">4</text>
<text x="257.70" y="674.6" text-anchor="middle" font-family='"Liberation Serif", serif' font-size="8.4">24</text>
<text x="353.90" y="674.6" text-anchor="middle" font-family='"Liberation Serif", serif' font-size="8.4">0.5</text>
<text x="444.60" y="674.6" text-anchor="middle" font-family='"Liberation Serif", serif' font-size="8.4">4</text>
<text x="531.90" y="674.6" text-anchor="middle" font-family='"Liberation Serif", serif' font-size="8.4">24</text>
<text x="309.25" y="689" text-anchor="middle" font-family='"Liberation Serif", serif' font-size="9.7">Time (h)</text>
<text transform="translate(7.4,517.9) rotate(-90)" text-anchor="middle" font-family='"Liberation Serif", serif' font-size="9.8">DPL solubility (&#181;g/mL)</text>
<ellipse cx="596.8" cy="490.70" rx="5.5" ry="4.5" fill="#1e1e1e"/>
<text x="608.5" y="493.30" font-family='"Liberation Serif", serif' font-size="7.8">Absence of excipient</text>
<ellipse cx="596.8" cy="504.87" rx="5.5" ry="4.5" fill="#3cbc6c"/>
<text x="608.5" y="507.47" font-family='"Liberation Serif", serif' font-size="7.8">Pharmacoat 606 2%</text>
<ellipse cx="596.8" cy="519.04" rx="5.5" ry="4.5" fill="#0a630e"/>
<text x="608.5" y="521.64" font-family='"Liberation Serif", serif' font-size="7.8">Pharmacoat 606 5%</text>
<ellipse cx="596.8" cy="533.21" rx="5.5" ry="4.5" fill="#1f86f2"/>
<text x="608.5" y="535.81" font-family='"Liberation Serif", serif' font-size="7.8">Pharmacoat 615 2%</text>
<ellipse cx="596.8" cy="547.38" rx="5.5" ry="4.5" fill="#0b0bd8"/>
<text x="608.5" y="549.98" font-family='"Liberation Serif", serif' font-size="7.8">Pharmacoat 615 5%</text>
<ellipse cx="596.8" cy="561.55" rx="5.5" ry="4.5" fill="#e42a2a"/>
<text x="608.5" y="564.15" font-family='"Liberation Serif", serif' font-size="7.8">HPMC-Sigma 2%</text>
<ellipse cx="596.8" cy="575.72" rx="5.5" ry="4.5" fill="#9a1313"/>
<text x="608.5" y="578.32" font-family='"Liberation Serif", serif' font-size="7.8">HPMC-Sigma 5%</text>
</svg>
</body></html>
